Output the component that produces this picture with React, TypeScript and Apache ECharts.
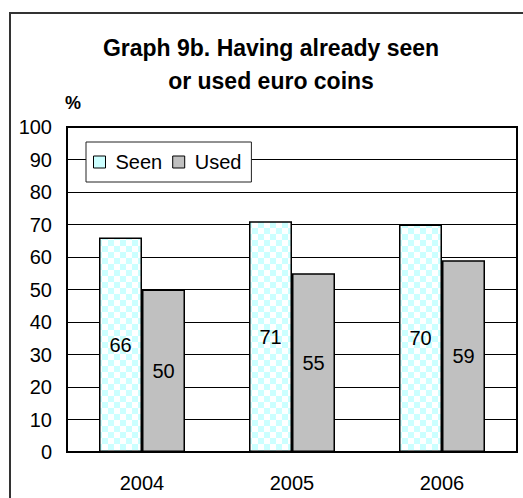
import React, { useEffect, useRef } from "react";
import * as echarts from "echarts";

const years = ["2004", "2005", "2006"];
const seenValues = [66, 71, 70];
const usedValues = [50, 55, 59];
const seriesNames = ["Seen", "Used"];
const titleText = "Graph 9b. Having already seen\nor used euro coins";
const yUnit = "%";

function makeChecker(): HTMLCanvasElement {
  const c = document.createElement("canvas");
  const s = 6;
  c.width = s * 2;
  c.height = s * 2;
  const ctx = c.getContext("2d")!;
  ctx.fillStyle = "#ffffff";
  ctx.fillRect(0, 0, s * 2, s * 2);
  ctx.fillStyle = "#ccffff";
  ctx.fillRect(0, 0, s, s);
  ctx.fillRect(s, s, s, s);
  return c;
}

export default function App() {
  const ref = useRef<HTMLDivElement>(null);
  useEffect(() => {
    document.body.style.margin = "0";
    const chart = echarts.init(ref.current!, null, { renderer: "svg" });
    const checker = makeChecker();
    const font = "Liberation Sans, Arial, sans-serif";
    chart.setOption({
      animation: false,
      textStyle: { fontFamily: font },
      graphic: [
        {
          type: "rect",
          shape: { x: 10, y: 13, width: 700, height: 700 },
          style: { fill: "none", stroke: "#333", lineWidth: 2 },
          z: 0,
        },
        {
          type: "text",
          x: 271,
          y: 31,
          style: {
            text: titleText,
            textAlign: "center",
            fontSize: 23,
            fontWeight: "bold",
            lineHeight: 33,
            fontFamily: font,
            fill: "#000",
          },
        },
        {
          type: "text",
          x: 73,
          y: 94,
          style: {
            text: yUnit,
            textAlign: "center",
            fontSize: 18,
            fontWeight: "bold",
            fontFamily: font,
            fill: "#000",
          },
        },
      ],
      legend: {
        data: [
          { name: seriesNames[0], itemStyle: { color: "#ccffff" } },
          { name: seriesNames[1] },
        ],
        left: 86,
        top: 142,
        orient: "horizontal",
        itemWidth: 12,
        itemHeight: 12,
        itemGap: 10,
        padding: [10, 10, 10, 7],
        backgroundColor: "#fff",
        borderColor: "#222",
        borderWidth: 1,
        icon: "rect",
        itemStyle: { borderColor: "#000", borderWidth: 1 },
        textStyle: { fontSize: 20, color: "#000", fontFamily: font, padding: [0, 0, 0, 5] },
        z: 10,
      },
      grid: {
        left: 67,
        right: 6,
        top: 127,
        bottom: 46,
        show: true,
        borderColor: "#000",
        borderWidth: 2,
        containLabel: false,
      },
      xAxis: {
        type: "category",
        data: years,
        axisLine: { show: true, lineStyle: { color: "#000", width: 2 } },
        axisTick: { show: false },
        axisLabel: { fontSize: 20, color: "#000", margin: 21, fontFamily: font },
      },
      yAxis: {
        type: "value",
        min: 0,
        max: 100,
        interval: 10,
        axisLine: { show: true, lineStyle: { color: "#000", width: 2 } },
        axisTick: { show: false },
        axisLabel: { fontSize: 20, color: "#000", margin: 15, fontFamily: font },
        splitLine: { show: true, lineStyle: { color: "#000", width: 1 } },
      },
      series: [
        {
          name: seriesNames[0],
          type: "bar",
          data: seenValues,
          barWidth: 43,
          barGap: "0%",
          itemStyle: {
            color: { image: checker, repeat: "repeat" },
            borderColor: "#000",
            borderWidth: 1.5,
          },
          label: { show: true, position: "inside", fontSize: 20, color: "#000", fontFamily: font },
        },
        {
          name: seriesNames[1],
          type: "bar",
          data: usedValues,
          barWidth: 43,
          barGap: "0%",
          itemStyle: { color: "#c0c0c0", borderColor: "#000", borderWidth: 1.5 },
          label: { show: true, position: "inside", fontSize: 20, color: "#000", fontFamily: font },
        },
      ],
    });
    return () => chart.dispose();
  }, []);
  return <div ref={ref} style={{ width: 523, height: 498 }} />;
}
